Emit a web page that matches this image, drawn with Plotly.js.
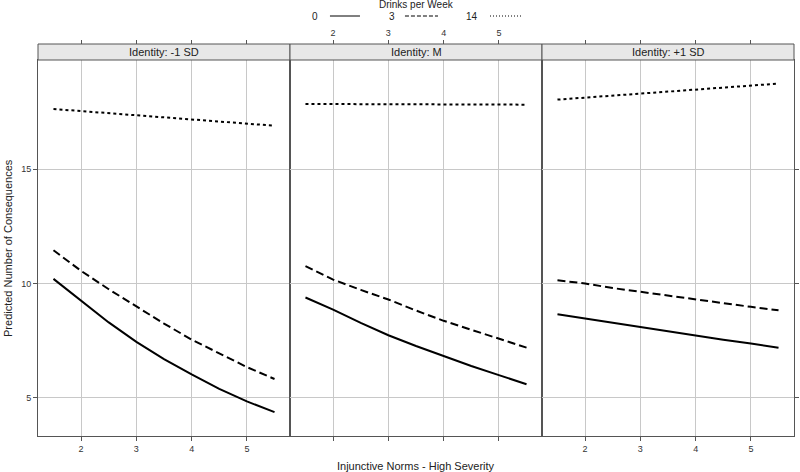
<!DOCTYPE html>
<html>
<head>
<meta charset="utf-8">
<script src="https://cdn.plot.ly/plotly-3.0.1.min.js"></script>
<style>body{margin:0;background:#fff}</style>
</head>
<body>
<div id="chart" style="width:800px;height:472px"></div>
<script>
// injunctive norms values at which predictions were computed
var norms = [1.5, 2, 2.5, 3, 3.5, 4, 4.5, 5, 5.5];
var panels = ['Identity: -1 SD', 'Identity: M', 'Identity: +1 SD'];
var drinkLevels = ['0', '3', '14'];
var dashes = ['solid', '8px,4px', '3px,3px'];

// predicted consequences
var lowId0  = [10.2, 9.25, 8.3, 7.45, 6.7, 6.03, 5.4, 4.85, 4.38];
var lowId3  = [11.45, 10.55, 9.75, 9.0, 8.25, 7.55, 6.95, 6.35, 5.83];
var lowId14 = [17.62, 17.53, 17.44, 17.35, 17.26, 17.17, 17.08, 16.98, 16.89];

var midId0  = [9.39, 8.86, 8.28, 7.74, 7.27, 6.83, 6.4, 6.0, 5.6];
var midId3  = [10.76, 10.17, 9.72, 9.3, 8.82, 8.37, 7.98, 7.6, 7.2];
var midId14 = [17.84, 17.84, 17.83, 17.83, 17.83, 17.82, 17.82, 17.82, 17.81];

var highId0  = [8.66, 8.47, 8.27, 8.08, 7.89, 7.7, 7.54, 7.38, 7.19];
var highId3  = [10.14, 10.0, 9.8, 9.63, 9.46, 9.3, 9.14, 8.98, 8.83];
var highId14 = [18.03, 18.12, 18.2, 18.29, 18.38, 18.46, 18.55, 18.64, 18.73];

var panelData = [
  [lowId0, lowId3, lowId14],
  [midId0, midId3, midId14],
  [highId0, highId3, highId14]
];

var xRange = [1.22, 5.78];
var yRange = [3.34, 19.76];
var stripBottom = 376 / 392;
var fontFam = 'Liberation Sans, Arial, sans-serif';
var axCol = '#555';

var traces = [];
for (var p = 0; p < 3; p++) {
  var suffix = p ? String(p + 1) : '';
  for (var d = 0; d < 3; d++) {
    traces.push({
      x: norms,
      y: panelData[p][d],
      xaxis: 'x' + suffix,
      yaxis: 'y' + suffix,
      mode: 'lines',
      name: drinkLevels[d],
      line: {color: '#000', width: 2, dash: dashes[d]},
      showlegend: false,
      hoverinfo: 'skip'
    });
  }
  // transparent copy so the top tick axis of each panel gets drawn
  traces.push({
    x: norms,
    y: panelData[p][2],
    xaxis: 'x' + (p + 4),
    yaxis: 'y' + suffix,
    mode: 'lines',
    line: {color: 'rgba(0,0,0,0)', width: 0},
    opacity: 0,
    showlegend: false,
    hoverinfo: 'skip'
  });
}

function xAx(i, labels) {
  return {
    domain: [i / 3, (i + 1) / 3], anchor: i ? 'y' + (i + 1) : 'y',
    range: xRange, tickvals: [2, 3, 4, 5], showticklabels: labels,
    showgrid: true, gridcolor: '#c8c8c8', gridwidth: 1, zeroline: false,
    showline: true, mirror: true, linecolor: axCol, linewidth: 1,
    ticks: 'outside', ticklen: 4, tickcolor: axCol,
    tickfont: {size: 9, color: '#333', family: fontFam}
  };
}
function yAx(i, ticks, side) {
  return {
    domain: [0, stripBottom], anchor: i ? 'x' + (i + 1) : 'x',
    range: yRange, tickvals: [5, 10, 15], showticklabels: i === 0,
    side: side,
    showgrid: true, gridcolor: '#c8c8c8', gridwidth: 1, zeroline: false,
    showline: true, mirror: true, linecolor: axCol, linewidth: 1,
    ticks: ticks, ticklen: 4, tickcolor: axCol,
    tickfont: {size: 9, color: '#333', family: fontFam}
  };
}
function topAx(i, labels) {
  return {
    domain: [i / 3, (i + 1) / 3],
    overlaying: i ? 'x' + (i + 1) : 'x', anchor: 'free', position: 1, side: 'top',
    range: xRange, tickvals: [2, 3, 4, 5], showticklabels: labels,
    showgrid: false, zeroline: false, showline: false,
    ticks: 'outside', ticklen: 4, tickcolor: axCol,
    tickfont: {size: 9, color: '#333', family: fontFam}
  };
}

var shapes = [];
var annotations = [];
for (var s = 0; s < 3; s++) {
  shapes.push({
    type: 'rect', xref: 'paper', yref: 'paper',
    x0: s / 3, x1: (s + 1) / 3, y0: stripBottom, y1: 1,
    fillcolor: '#e8e8e8', line: {color: axCol, width: 1}
  });
  annotations.push({
    xref: 'paper', yref: 'paper', x: (s + 0.5) / 3, y: (1 + stripBottom) / 2,
    text: panels[s], showarrow: false, xanchor: 'center', yanchor: 'middle',
    font: {size: 11, color: '#222', family: fontFam}
  });
}

// legend key: label then line sample
var keyLabelX = [0.3664, 0.4683, 0.5741];
var keyLineX = [[0.3862, 0.4259], [0.4854, 0.5291], [0.5979, 0.6389]];
var keyY = 1.0714;
for (var k = 0; k < 3; k++) {
  annotations.push({
    xref: 'paper', yref: 'paper', x: keyLabelX[k], y: keyY,
    text: drinkLevels[k], showarrow: false, xanchor: 'center', yanchor: 'middle',
    font: {size: 10, color: '#222', family: fontFam}
  });
  shapes.push({
    type: 'line', xref: 'paper', yref: 'paper',
    x0: keyLineX[k][0], x1: keyLineX[k][1], y0: keyY, y1: keyY,
    line: {color: '#000', width: 1, dash: k === 0 ? 'solid' : (k === 1 ? '4px,2px' : '1px,2px')}
  });
}
annotations.push({
  xref: 'paper', yref: 'paper', x: 0.5, y: 1.0995,
  text: 'Drinks per Week', showarrow: false, xanchor: 'center', yanchor: 'middle',
  font: {size: 10, color: '#222', family: fontFam}
});
annotations.push({
  xref: 'paper', yref: 'paper', x: 0.5, y: -0.0765,
  text: 'Injunctive Norms - High Severity', showarrow: false,
  xanchor: 'center', yanchor: 'middle',
  font: {size: 11, color: '#222', family: fontFam}
});
annotations.push({
  xref: 'paper', yref: 'paper', x: -0.0397, y: 0.4796, textangle: -90,
  text: 'Predicted Number of Consequences', showarrow: false,
  xanchor: 'center', yanchor: 'middle',
  font: {size: 11, color: '#222', family: fontFam}
});

var layout = {
  width: 800, height: 472,
  margin: {l: 38, r: 6, t: 44, b: 36},
  paper_bgcolor: '#fff', plot_bgcolor: '#fff',
  showlegend: false,
  xaxis: xAx(0, true), xaxis2: xAx(1, false), xaxis3: xAx(2, true),
  yaxis: yAx(0, 'outside', 'left'), yaxis2: yAx(1, '', 'left'), yaxis3: yAx(2, 'outside', 'right'),
  xaxis4: topAx(0, false), xaxis5: topAx(1, true), xaxis6: topAx(2, false),
  shapes: shapes,
  annotations: annotations
};

Plotly.newPlot('chart', traces, layout, {displayModeBar: false, staticPlot: true});
</script>
</body>
</html>
